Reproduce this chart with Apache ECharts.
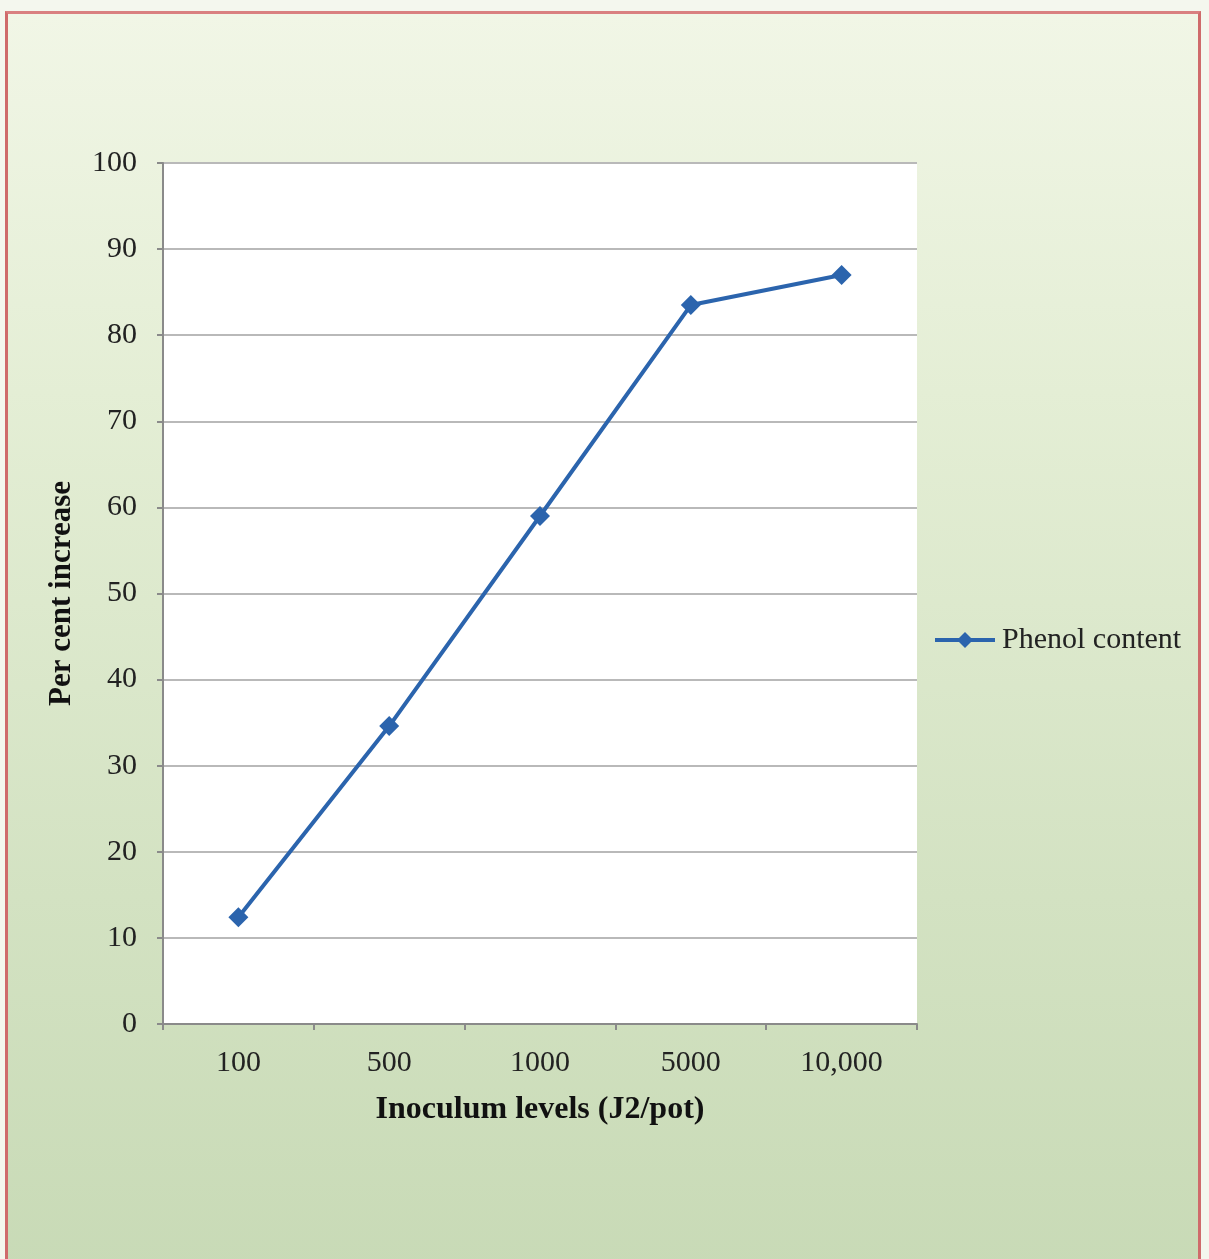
<!DOCTYPE html>
<html>
<head>
<meta charset="utf-8">
<script src="https://cdn.jsdelivr.net/npm/echarts@6/dist/echarts.min.js"></script>
<style>
  html, body { margin: 0; padding: 0; }
  body {
    width: 1209px; height: 1259px; overflow: hidden;
    background: #f4f7ee;
  }
  #frame {
    position: absolute; left: 5px; top: 11px; width: 1190px; height: 1260px;
    border-left: 3px solid #cf6b6b; border-right: 3px solid #cf6b6b; border-top: 3px solid #d98080;
    background: linear-gradient(to bottom, #f1f6e6 0%, #e4eed5 30%, #d3e2c2 70%, #c8dab6 100%);
  }
  #chart { position: absolute; left: 0; top: 0; width: 1209px; height: 1259px; }
</style>
</head>
<body>
<div id="frame"></div>
<div id="chart"></div>
<script>
// Inoculum levels and the per cent increase in phenol content
const categories = ['100', '500', '1000', '5000', '10,000'];
const phenolContent = [12.4, 34.6, 59.0, 83.5, 87.0];
const seriesName = 'Phenol content';

const serif = '"Liberation Serif", "DejaVu Serif", serif';
const chart = echarts.init(document.getElementById('chart'), null, { renderer: 'canvas' });

chart.setOption({
  backgroundColor: 'transparent',
  animation: false,
  grid: {
    left: 163, top: 163, width: 754, height: 861,
    show: true, backgroundColor: '#ffffff', borderWidth: 0
  },
  legend: {
    data: [seriesName],
    left: 928, top: 620,
    itemWidth: 60, itemHeight: 20, itemGap: 10,
    lineStyle: { width: 4 },
    textStyle: { fontFamily: serif, fontSize: 30, color: '#222', padding: [0, 0, 0, 2] }
  },
  xAxis: {
    type: 'category',
    data: categories,
    name: 'Inoculum levels (J2/pot)',
    nameLocation: 'middle',
    nameGap: 70,
    nameTextStyle: { fontFamily: serif, fontSize: 32, fontWeight: 'bold', color: '#111' },
    axisLine: { lineStyle: { color: '#8a8a8a', width: 2 } },
    axisTick: { show: true, length: 6, lineStyle: { color: '#8a8a8a', width: 2 } },
    axisLabel: { fontFamily: serif, fontSize: 30, color: '#222', margin: 24 },
    splitLine: { show: false }
  },
  yAxis: {
    type: 'value',
    min: 0, max: 100, interval: 10,
    name: 'Per cent increase',
    nameLocation: 'middle',
    nameGap: 86,
    nameRotate: 90,
    nameTextStyle: { fontFamily: serif, fontSize: 31, fontWeight: 'bold', color: '#111' },
    axisLine: { show: true, lineStyle: { color: '#8a8a8a', width: 2 } },
    axisTick: { show: true, length: 6, lineStyle: { color: '#8a8a8a', width: 2 } },
    axisLabel: { fontFamily: serif, fontSize: 30, color: '#222', margin: 26 },
    splitLine: { show: true, lineStyle: { color: '#b9b9b9', width: 2 } }
  },
  series: [{
    name: seriesName,
    type: 'line',
    data: phenolContent,
    symbol: 'diamond',
    symbolSize: 20,
    lineStyle: { color: '#2b64ad', width: 4 },
    itemStyle: { color: '#2b64ad' }
  }]
});
</script>
</body>
</html>
